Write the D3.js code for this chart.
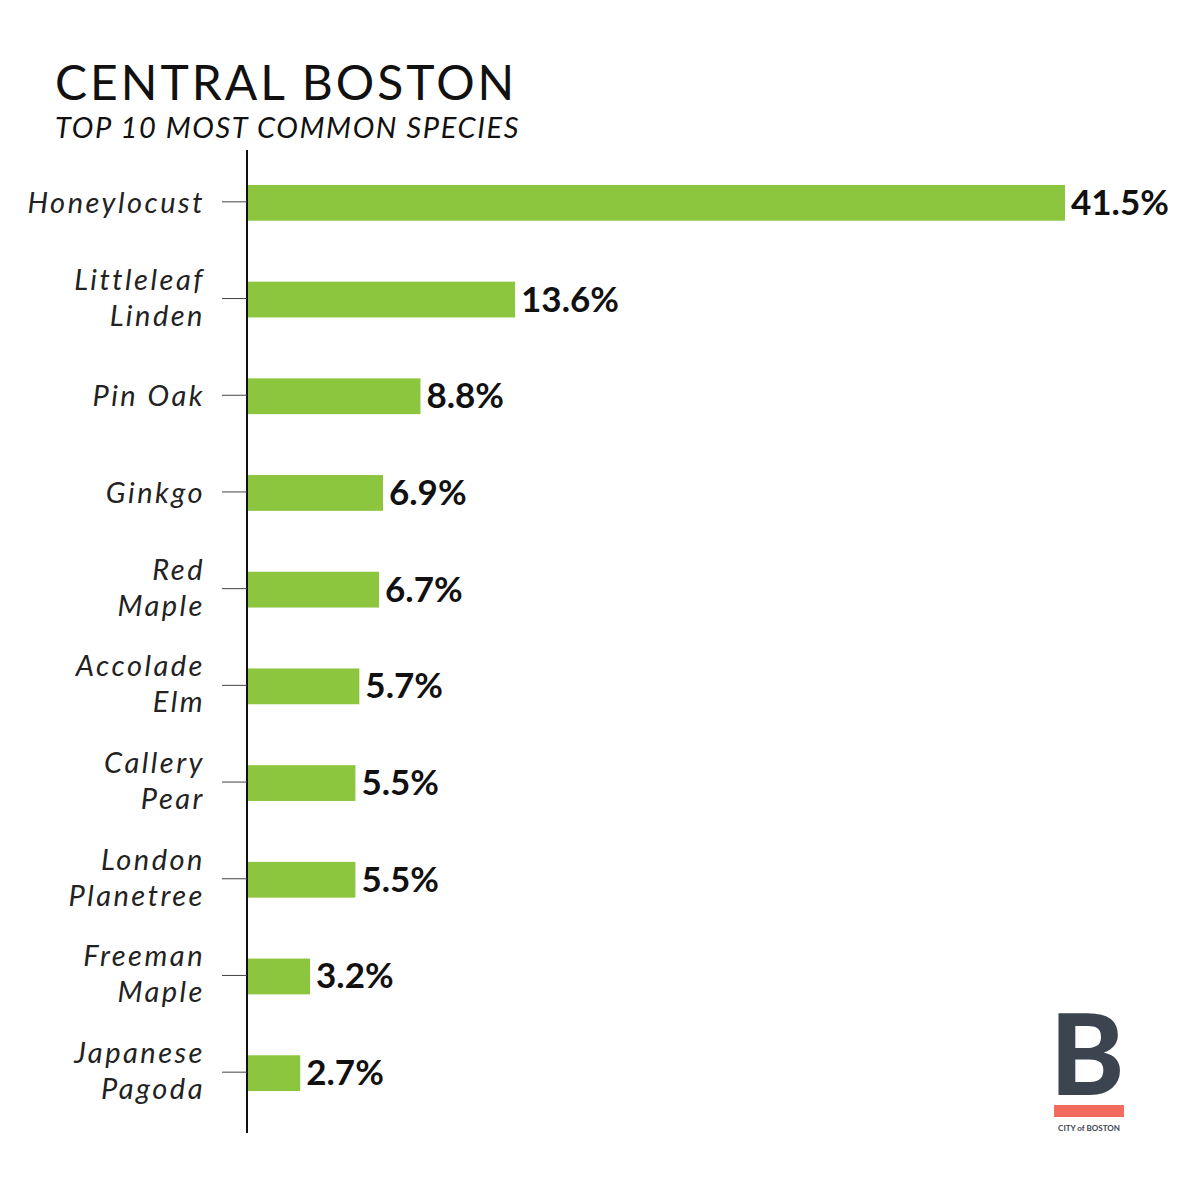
<!DOCTYPE html>
<html><head><meta charset="utf-8">
<script src="https://cdn.jsdelivr.net/npm/d3@7"></script>
<style>body{margin:0;background:#fff}</style>
</head><body><div id="chart"></div>
<script>
var species = [["Honeylocust"], ["Littleleaf", "Linden"], ["Pin Oak"], ["Ginkgo"], ["Red", "Maple"],
  ["Accolade", "Elm"], ["Callery", "Pear"], ["London", "Planetree"], ["Freeman", "Maple"], ["Japanese", "Pagoda"]];
var shares = [41.5, 13.6, 8.8, 6.9, 6.7, 5.7, 5.5, 5.5, 3.2, 2.7];

var width = 1200, height = 1200;
var svg = d3.select("#chart").append("svg").attr("width", width).attr("height", height);

var keys = species.map(function(d){ return d.join(" "); });
var x = d3.scaleLinear().domain([0, 41.5]).range([247, 1065]);
var y = d3.scaleBand().domain(keys).range([154, 1122]).paddingInner(0.63).paddingOuter(0.32);

svg.append("text").text("CENTRAL BOSTON")
  .attr("x", 55).attr("y", 100)
  .style("font-family", "Lato").style("font-size", "48px").style("letter-spacing", "3px").attr("fill", "#111");
svg.append("text").text("TOP 10 MOST COMMON SPECIES")
  .attr("x", 55).attr("y", 138)
  .style("font-family", "Lato").style("font-style", "italic").style("font-size", "29px").style("letter-spacing", "1.6px").attr("fill", "#111");

// bars
svg.selectAll("rect.bar").data(shares).enter().append("rect")
  .attr("class", "bar")
  .attr("x", x(0))
  .attr("y", function(d, i){ return y(keys[i]); })
  .attr("width", function(d){ return x(d) - x(0); })
  .attr("height", y.bandwidth())
  .attr("fill", "#8cc63f");

// value labels
svg.selectAll("text.val").data(shares).enter().append("text")
  .attr("class", "val")
  .attr("x", function(d){ return x(d) + 6; })
  .attr("y", function(d, i){ return y(keys[i]) + y.bandwidth() / 2 + 12; })
  .text(function(d){ return d.toFixed(1) + "%"; })
  .style("font-family", "Lato").style("font-weight", 700).style("font-size", "35px").attr("fill", "#111");

// axis
svg.append("line").attr("x1", 247).attr("x2", 247).attr("y1", 150).attr("y2", 1133)
  .attr("stroke", "#111").attr("stroke-width", 2);
keys.forEach(function(k, i){
  var cy = y(k) + y.bandwidth() / 2;
  svg.append("line").attr("x1", 222).attr("x2", 247).attr("y1", cy - 1).attr("y2", cy - 1)
    .attr("stroke", "#444").attr("stroke-width", 1);
  var lines = species[i];
  var t = svg.append("text").attr("text-anchor", "end")
    .style("font-family", "Lato").style("font-style", "italic").style("font-size", "29px")
    .style("letter-spacing", "2.5px").attr("fill", "#222");
  lines.forEach(function(l, j){
    t.append("tspan").attr("x", 205)
      .attr("y", cy + 10 + (j - (lines.length - 1) / 2) * 36 - (lines.length > 1 ? 2 : 0))
      .text(l);
  });
});

// logo
var logo = svg.append("g").attr("transform", "translate(1054,1010)");
logo.append("text").text("B").attr("x", -4).attr("y", 85)
  .style("font-family", "Lato").style("font-weight", 900).style("font-size", "112px").attr("fill", "#3c4450");
logo.append("rect").attr("x", 0).attr("y", 95).attr("width", 70).attr("height", 12).attr("fill", "#f26b5f");
logo.append("text").text("CITY of BOSTON").attr("x", 35).attr("y", 121).attr("text-anchor", "middle")
  .style("font-family", "Lato").style("font-weight", 700).style("font-size", "8px").attr("fill", "#3c4450");
</script></body></html>
